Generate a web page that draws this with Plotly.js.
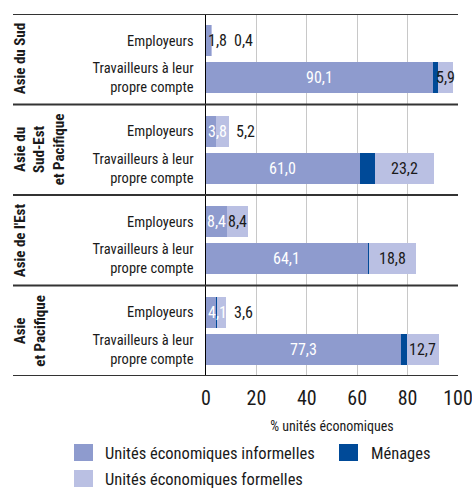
<!DOCTYPE html>
<html>
<head>
<meta charset="utf-8">
<script src="https://cdn.plot.ly/plotly-3.0.1.min.js"></script>
<style>
  html, body { margin: 0; padding: 0; background: #fff; }
  #chart { width: 472px; height: 489px; }
</style>
</head>
<body>
<div id="chart"></div>
<script>
// ---- data ----
const groups = ["Asie du Sud", "Asie du<br>Sud-Est<br>et Pacifique", "Asie de l'Est", "Asie<br>et Pacifique"];
const barTypes = ["Employeurs", "Travailleurs à leur<br>propre compte"];
// values per group: [Employeurs, Travailleurs à leur propre compte]
const informal = [[1.8, 90.1], [3.8, 61.0], [8.4, 64.1], [4.1, 77.3]];
const menages  = [[0.0, 2.0],  [0.0, 6.2],  [0.0, 0.4],  [0.4, 2.3]];
const formal   = [[0.4, 5.9],  [5.2, 23.2], [8.4, 18.8], [3.6, 12.7]];
const seriesNames = ["Unités économiques informelles", "Ménages", "Unités économiques formelles"];
const xTicks = [0, 20, 40, 60, 80, 100];
const xTitle = "% unités économiques";

// ---- styling ----
const colors = ["#8E9BCE", "#004A98", "#BAC0E3"];
const FONT = "'Roboto Condensed', 'Liberation Sans Narrow', 'DejaVu Sans Condensed', sans-serif";
const dark = "#1a1a1a";

// plot geometry (pixels) for paper conversions
const W = 472, H = 489;
const L = 206, R = 458, T = 14, B = 376;
const px2x = p => (p - L) / (R - L);
const py2y = p => (B - p) / (B - T);

const offset = 0.2044, barW = 0.3425;
const yPos = [], yText = [];
const flat = {inf: [], men: [], form: []};
groups.forEach((g, gi) => {
  barTypes.forEach((t, ti) => {
    const yc = (groups.length - 1 - gi) + (ti === 0 ? offset : -offset);
    yPos.push(yc); yText.push(t);
    flat.inf.push(informal[gi][ti]);
    flat.men.push(menages[gi][ti]);
    flat.form.push(formal[gi][ti]);
  });
});

const traces = [flat.inf, flat.men, flat.form].map((vals, i) => ({
  type: 'bar', orientation: 'h', name: seriesNames[i],
  x: vals, y: yPos, width: barW,
  marker: {color: colors[i], line: {width: 0}},
  hoverinfo: 'x', showlegend: false
}));

const fmt = v => v.toFixed(1).replace('.', ',');
const annotations = [];
const shapes = [];

// value labels
yPos.forEach((y, k) => {
  const inf = flat.inf[k], men = flat.men[k], form = flat.form[k];
  const total = inf + men + form;
  if (inf >= 6) {
    annotations.push({x: inf / 2, y, xref: 'x', yref: 'y', text: fmt(inf), showarrow: false,
      xanchor: 'center', font: {family: FONT, size: 16, color: '#ffffff'}});
  } else {
    annotations.push({x: 0, y, xref: 'x', yref: 'y', text: fmt(inf), showarrow: false,
      xanchor: 'left', xshift: 0,
      font: {family: FONT, size: 16, color: total >= 6 ? '#ffffff' : dark}});
  }
  if (form >= 5.5) {
    annotations.push({x: inf + men + form / 2, y, xref: 'x', yref: 'y', text: fmt(form), showarrow: false,
      xanchor: 'center', font: {family: FONT, size: 16, color: dark}});
  } else {
    annotations.push({x: Math.max(total, 8.5), y, xref: 'x', yref: 'y', text: fmt(form), showarrow: false,
      xanchor: 'left', xshift: 5, font: {family: FONT, size: 16, color: dark}});
  }
});

// group labels (rotated)
groups.forEach((g, gi) => {
  annotations.push({x: px2x(13), y: groups.length - 1 - gi, xref: 'paper', yref: 'y',
    text: '<b>' + g + '</b>', textangle: -90, showarrow: false, xanchor: 'left', yanchor: 'middle',
    xshift: -4, align: 'center', font: {family: FONT, size: 15, color: dark}});
});

// group separators
for (let i = 0; i <= groups.length; i++) {
  shapes.push({type: 'line', xref: 'paper', yref: 'y', x0: px2x(13), x1: 1,
    y0: i - 0.5, y1: i - 0.5, line: {color: '#333333', width: 2}});
}

// custom legend
const legendItems = [
  {i: 0, sx: 74, tx: 103, cy: 453},
  {i: 1, sx: 339, tx: 369, cy: 453},
  {i: 2, sx: 74, tx: 103, cy: 479}
];
legendItems.forEach(it => {
  shapes.push({type: 'rect', xref: 'paper', yref: 'paper',
    x0: px2x(it.sx), x1: px2x(it.sx + 19), y0: py2y(it.cy - 9), y1: py2y(it.cy + 8),
    fillcolor: colors[it.i], line: {width: 0}});
  annotations.push({x: px2x(it.tx), y: py2y(it.cy), xref: 'paper', yref: 'paper',
    text: seriesNames[it.i], showarrow: false, xanchor: 'left', yanchor: 'middle',
    font: {family: FONT, size: 16.5, color: dark}});
});

const layout = {
  width: W, height: H,
  margin: {l: L, r: W - R, t: T, b: H - B, pad: 0},
  paper_bgcolor: '#ffffff', plot_bgcolor: '#ffffff',
  barmode: 'stack', bargap: 0,
  separators: ', ',
  showlegend: false,
  font: {family: FONT, color: dark},
  xaxis: {
    range: [0, 100], tickvals: xTicks, ticktext: xTicks.map(String),
    showgrid: true, gridcolor: '#c8c8c8', gridwidth: 1,
    zeroline: false, showline: false, ticks: '',
    tickfont: {family: FONT, size: 20, color: dark},
    ticklabelstandoff: 8, ticklabeloverflow: 'allow',
    title: {text: xTitle, font: {family: FONT, size: 14, color: dark}, standoff: 12},
    fixedrange: true, automargin: false
  },
  yaxis: {
    range: [-0.5, groups.length - 0.5],
    tickvals: yPos, ticktext: yText,
    showgrid: false, zeroline: false,
    showline: true, linecolor: '#000000', linewidth: 1.5,
    ticks: '', ticklabelstandoff: 8,
    tickfont: {family: FONT, size: 14.5, color: dark},
    fixedrange: true, automargin: false
  },
  shapes, annotations
};

Plotly.newPlot('chart', traces, layout, {displayModeBar: false, staticPlot: true});
</script>
</body>
</html>
